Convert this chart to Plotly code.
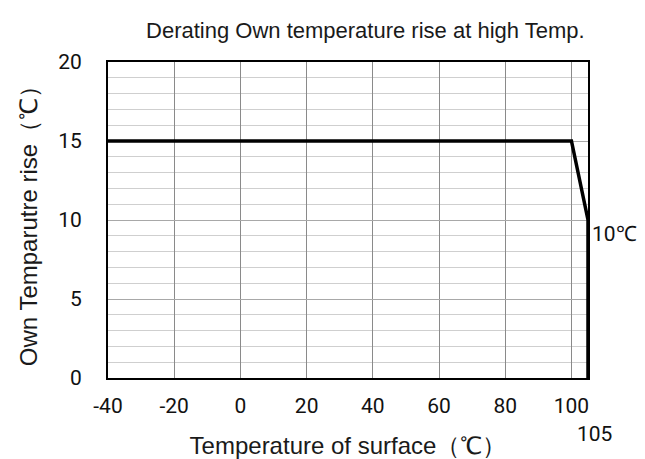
import plotly.graph_objects as go

# Data
temp_surface = [-40, 100, 105, 105]
own_rise = [15, 15, 10, 0]
x_ticks = [-40, -20, 0, 20, 40, 60, 80, 100]
y_ticks = [0, 5, 10, 15, 20]

tick_font = dict(family="Liberation Sans Narrow, Roboto, Liberation Sans, sans-serif", size=21, color="#111")
title_font = dict(family="Liberation Sans, Arial, sans-serif", size=24, color="#1a1a1a")

fig = go.Figure()
fig.add_trace(go.Scatter(x=temp_surface, y=own_rise, mode="lines",
                         line=dict(color="black", width=3.5), showlegend=False,
                         hoverinfo="skip"))

fig.add_annotation(x=105, y=10, text="10℃", showarrow=False, xanchor="left",
                   yanchor="middle", yshift=-14, xshift=2, font=tick_font)
fig.add_annotation(x=105, y=0, text="105", showarrow=False, xanchor="center",
                   yanchor="middle", yshift=-56, xshift=6, font=tick_font)

fig.update_layout(
    width=645, height=459,
    margin=dict(l=100, r=65, t=54, b=85),
    plot_bgcolor="white", paper_bgcolor="white",
    title=dict(text="Derating Own temperature rise at high Temp.",
               x=0.554, xanchor="center", y=0.952, yanchor="middle",
               font=dict(family="Liberation Sans, Arial, sans-serif", size=22, color="#1a1a1a")),
    xaxis=dict(range=[-40, 105], tickvals=x_ticks, ticktext=[str(v) for v in x_ticks],
               showgrid=True, gridcolor="#8a8a8a", gridwidth=1,
               showline=True, linecolor="black", linewidth=2, mirror=True,
               zeroline=False, ticks="", tickfont=tick_font, ticklabelstandoff=8,
               title=dict(text="Temperature of surface（℃）", standoff=20, font=title_font)),
    yaxis=dict(range=[0, 20], tickvals=y_ticks, showgrid=True, gridcolor="#a8a8a8", gridwidth=1,
               minor=dict(dtick=1, showgrid=True, gridcolor="#cfcfcf", gridwidth=1),
               showline=True, linecolor="black", linewidth=2, mirror=True,
               zeroline=False, ticks="", tickfont=tick_font, ticklabelstandoff=20,
               title=dict(text="Own Temparutre rise（℃）", standoff=14, font=title_font)),
)

fig.write_html("out.html")
